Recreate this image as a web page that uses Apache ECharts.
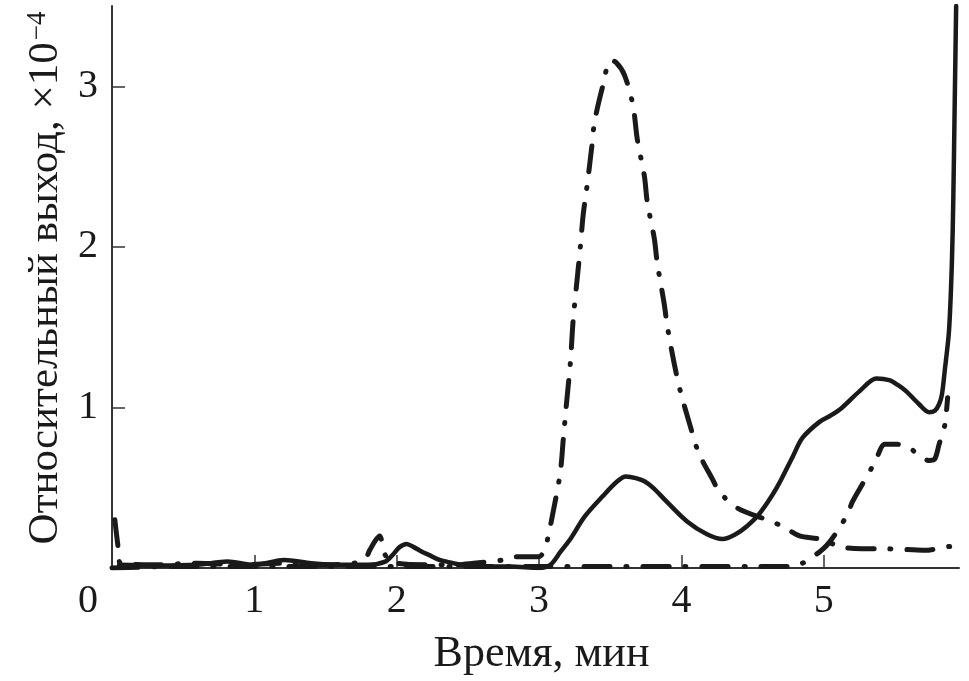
<!DOCTYPE html>
<html>
<head>
<meta charset="utf-8">
<script src="https://cdn.jsdelivr.net/npm/echarts@6/dist/echarts.min.js"></script>
<style>
html,body{margin:0;padding:0;background:#fff;}
#c{width:969px;height:681px;}
</style>
</head>
<body>
<div id="c"></div>
<script>
// Solid curve: [time (min), relative yield ×1e-4]
const solidCurve = [
  [0.05,0.02],[0.3,0.015],[0.6,0.02],[0.81,0.04],[1.0,0.02],[1.21,0.05],[1.4,0.03],[1.6,0.02],[1.8,0.02],
  [1.92,0.04],[1.97,0.08],[2.02,0.13],[2.07,0.15],[2.12,0.13],[2.18,0.10],[2.23,0.08],[2.30,0.05],[2.35,0.04],
  [2.45,0.02],[2.6,0.01],[2.8,0.01],[3.0,0.0],[3.08,0.02],[3.15,0.10],[3.22,0.18],[3.32,0.32],[3.45,0.45],
  [3.55,0.54],[3.61,0.57],[3.68,0.56],[3.74,0.54],[3.80,0.50],[3.90,0.41],[4.04,0.29],[4.18,0.21],[4.29,0.18],
  [4.38,0.21],[4.46,0.26],[4.55,0.34],[4.67,0.50],[4.78,0.69],[4.85,0.81],[4.97,0.91],[5.05,0.95],[5.13,1.00],
  [5.25,1.10],[5.37,1.18],[5.46,1.17],[5.52,1.14],[5.58,1.10],[5.67,1.02],[5.74,0.97],[5.78,0.98],[5.81,1.02],
  [5.83,1.08],[5.85,1.23],[5.88,1.48],[5.90,1.90],[5.91,2.30],[5.92,2.90],[5.93,3.50]
];
// Dash-dot curve with the large peak
const dashDotPeak = [
  [0.02,0.30],[0.04,0.15],[0.06,0.03],[0.3,0.02],[0.6,0.03],[0.9,0.02],[1.2,0.03],[1.5,0.02],[1.7,0.03],
  [1.78,0.06],[1.81,0.11],[1.85,0.17],[1.88,0.20],[1.92,0.08],[2.0,0.03],[2.2,0.02],[2.4,0.02],[2.54,0.03],
  [2.75,0.05],[2.84,0.07],[3.0,0.07],[3.04,0.12],[3.06,0.18],[3.11,0.40],[3.15,0.60],[3.17,0.80],[3.19,1.00],
  [3.22,1.28],[3.24,1.55],[3.27,1.82],[3.29,2.00],[3.31,2.20],[3.34,2.40],[3.37,2.62],[3.39,2.78],[3.45,3.01],
  [3.50,3.16],[3.54,3.15],[3.60,3.07],[3.66,2.88],[3.69,2.67],[3.74,2.44],[3.76,2.28],[3.81,2.05],[3.83,1.90],
  [3.88,1.64],[3.90,1.51],[3.95,1.27],[3.99,1.11],[4.06,0.89],[4.12,0.72],[4.22,0.55],[4.27,0.47],[4.40,0.37],
  [4.60,0.30],[4.71,0.26],[4.83,0.20],[4.97,0.18],[5.13,0.13],[5.27,0.12],[5.41,0.12],[5.58,0.115],[5.71,0.11],
  [5.85,0.13],[5.94,0.14]
];
// Dash-dot curve rising after 5 min
const dashDotLate = [
  [0.0,0.0],[0.5,0.01],[1.0,0.01],[1.5,0.01],[2.0,0.01],[2.5,0.01],[3.0,0.01],[3.5,0.01],[4.0,0.01],[4.5,0.01],
  [4.75,0.01],[4.85,0.03],[4.92,0.07],[4.97,0.10],[5.02,0.14],[5.08,0.21],[5.17,0.34],[5.20,0.41],[5.27,0.52],
  [5.36,0.66],[5.43,0.77],[5.52,0.77],[5.60,0.75],[5.67,0.70],[5.74,0.67],[5.78,0.68],[5.81,0.77],[5.85,0.89],[5.87,1.06]
];
const xTicks = [0,1,2,3,4,5];
const yTicks = [1,2,3];
const xTitle = 'Время, мин';
const yTitle = 'Относительный выход, ×10';
const yTitleExp = '−4';

const FONT = 'Liberation Serif';
const ink = '#1a1a1a';
const dashDot = [26,16,1,16];

const chart = echarts.init(document.getElementById('c'), null, {renderer:'canvas'});
chart.setOption({
  animation:false,
  backgroundColor:'#fff',
  grid:{left:112, right:10, top:6, bottom:109, containLabel:false},
  xAxis:{
    type:'value', min:0, max:5.95, interval:1,
    name:xTitle, nameLocation:'middle', nameGap:64,
    nameTextStyle:{fontFamily:FONT, fontSize:44, color:ink, padding:[0,0,0,12]},
    axisLine:{show:true, onZero:false, lineStyle:{color:'#333', width:2}},
    axisTick:{show:true, inside:true, length:13, lineStyle:{color:'#333', width:1.5},
      customValues: xTicks.filter(v=>v>0)},
    axisLabel:{show:true, fontFamily:FONT, fontSize:40, color:ink, margin:13,
      customValues: xTicks,
      formatter: v => v===0 ? '{z|0}' : String(v),
      rich:{z:{fontFamily:FONT, fontSize:40, color:ink, padding:[0,48,0,0]}}},
    splitLine:{show:false}
  },
  yAxis:{
    type:'value', min:0, max:3.5, interval:1,
    name:'{a|'+yTitle+'}{s|'+yTitleExp+'}', nameLocation:'middle', nameGap:34, nameRotate:90,
    nameTextStyle:{padding:[0,0,0,18], rich:{
      a:{fontFamily:FONT, fontSize:43, color:ink, lineHeight:43},
      s:{fontFamily:FONT, fontSize:27, color:ink, verticalAlign:'top', lineHeight:43, padding:[0,0,0,2]}
    }},
    axisLine:{show:true, onZero:false, lineStyle:{color:'#333', width:2}},
    axisTick:{show:true, inside:true, length:13, lineStyle:{color:'#333', width:1.5}, customValues: yTicks},
    axisLabel:{show:true, fontFamily:FONT, fontSize:40, color:ink, margin:14, customValues: yTicks},
    splitLine:{show:false}
  },
  series:[
    {type:'line', data:dashDotLate, showSymbol:false, smooth:0.3, z:2,
      lineStyle:{color:ink, width:5, type:dashDot, cap:'round', join:'round'}},
    {type:'line', data:dashDotPeak, showSymbol:false, smooth:0.3, z:3,
      lineStyle:{color:ink, width:5, type:dashDot, cap:'round', join:'round'}},
    {type:'line', data:solidCurve, showSymbol:false, smooth:0.3, z:4,
      lineStyle:{color:ink, width:4.5, type:'solid', cap:'round', join:'round'}}
  ]
});
</script>
</body>
</html>
